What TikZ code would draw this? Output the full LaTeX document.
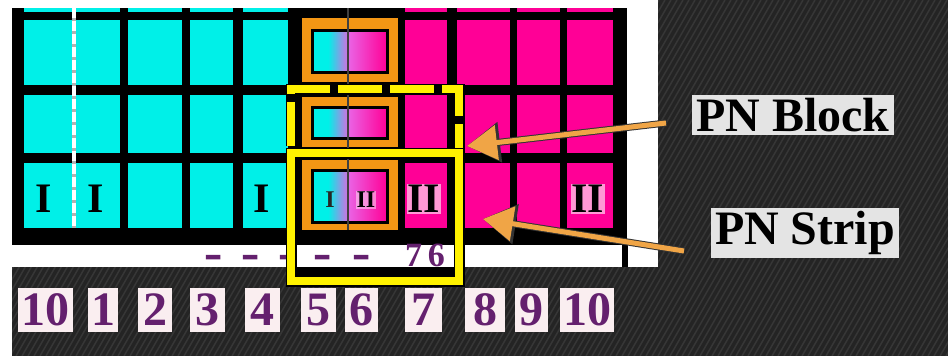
\documentclass[tikz,border=0pt]{standalone}
\usepackage{fontspec}
\usepackage{graphicx}
\setmainfont{Liberation Serif}
\usetikzlibrary{arrows.meta}
\definecolor{cyancell}{RGB}{0,240,232}
\definecolor{pinkcell}{RGB}{255,0,150}
\definecolor{midmag}{RGB}{235,95,225}
\definecolor{blkorange}{RGB}{243,150,20}
\definecolor{pnyellow}{RGB}{255,242,0}
\definecolor{numpurple}{RGB}{100,32,110}
\definecolor{darkbg}{RGB}{36,36,36}
\definecolor{bgstripe}{RGB}{54,54,54}
\definecolor{arrorange}{RGB}{240,165,70}
\definecolor{lblgray}{RGB}{228,228,228}
\definecolor{numwhite}{RGB}{250,238,240}
\begin{document}
\begin{tikzpicture}[x=1pt,y=-1pt,
	numbox/.style={fill=numwhite,text=numpurple,font=\fontsize{48}{48}\selectfont\bfseries,inner xsep=3pt,inner ysep=0pt,minimum height=44pt},
	pnlabel/.style={fill=lblgray,text=black,font=\fontsize{48}{48}\selectfont\bfseries,inner xsep=4pt,inner ysep=3pt},
	romlbl/.style={font=\fontsize{42}{42}\selectfont\bfseries,inner sep=1pt},
	bandmark/.style={text=numpurple,font=\fontsize{40}{40}\selectfont\bfseries\addfontfeature{FakeBold=3},inner sep=0pt},
	pnarrow/.style={draw=arrorange,line width=5pt,-{Triangle[length=30pt,width=34pt]},
		preaction={draw=black!80,line width=7pt,-{Triangle[length=33pt,width=39pt]}}}]
	\useasboundingbox (0,0) rectangle (948,356);
	\fill[white] (0,0) rectangle (948,356);
	% dark striped background
	\begin{scope}
		\clip (658,0) -- (948,0) -- (948,356) -- (12,356) -- (12,267) -- (658,267) -- cycle;
		\fill[darkbg] (0,0) rectangle (948,356);
		\foreach \s in {-200,-194,...,948}
		\draw[bgstripe,line width=1.5pt] (\s,356) -- ++(205,-356);
	\end{scope}
	% panel and cells
	\fill[black] (12,8) rectangle (627,245);
	\foreach \xa/\xb/\c in {24/120/cyancell,128/182/cyancell,190/233/cyancell,243/288/cyancell,405/447/pinkcell,457/510/pinkcell,517/560/pinkcell,567/613/pinkcell}
	\foreach \ya/\yb in {8/12,20/85,95/153,163/228}
	\fill[\c] (\xa,\ya) rectangle (\xb,\yb);
	\foreach \ya/\yb/\ia/\ib in {18/82/30/72,97/147/107/138,160/230/170/222}{
		\fill[blkorange] (302,\ya) rectangle (398,\yb);
		\fill[cyancell] (312,\ia) rectangle (328,\ib);
		\shade[left color=cyancell,right color=midmag] (328,\ia) rectangle (350,\ib);
		\shade[left color=midmag,right color=pinkcell] (350,\ia) rectangle (387,\ib);
		\draw[black,line width=3pt] (312,\ia) rectangle (387,\ib);
	}
	\draw[black!75,line width=1.5pt] (348,8) -- (348,230);
	\draw[gray!60,line width=4pt] (74,8) -- (74,228);
	\draw[white,line width=4pt,dash pattern=on 10pt off 3pt] (74,8) -- (74,228);
	% labels in the bottom row
	\node[romlbl] (r1) at (44,199) {I};
	\node[romlbl] (r2) at (96,199) {I};
	\node[romlbl] (r3) at (262,199) {I};
	\node[romlbl,font=\fontsize{24}{24}\selectfont\bfseries,text=black!85] (r4) at (330,200) {I};
	\node[romlbl,font=\fontsize{24}{24}\selectfont\bfseries,fill=white,fill opacity=0.45,text opacity=1] (r5) at (366,200) {II};
	\node[romlbl,fill=white,fill opacity=0.6,text opacity=1] (r6) at (424,199) {II};
	\node[romlbl,fill=white,fill opacity=0.6,text opacity=1] (r7) at (588,199) {II};
	% white band
	\fill[white] (12,245) rectangle (622,267);
	\fill[black] (622,245) rectangle (628,267);
	\fill[black] (295,267) rectangle (455,277);
	\foreach \x [count=\k] in {213,250,287,322,361}
	\node[bandmark] (m\k) at (\x,261) {\scalebox{1.25}[1]{-}};
	\node[bandmark,font=\fontsize{34}{34}\selectfont\bfseries] (m76) at (425,255) {7\hspace{6pt}6};
	% PN block and PN strip
	\draw[pnyellow,line width=8pt,dash pattern=on 44pt off 8pt,preaction={draw=black,line width=11pt}] (291,146) -- (291,89) -- (459,89) -- (459,152);
	\draw[black,line width=11pt] (291,153) rectangle (459,281);
	\draw[pnyellow,line width=8pt] (291,153) rectangle (459,281);
	\node[pnlabel] (blklbl) at (793,115) {PN Block};
	\node[pnlabel] (strlbl) at (805,233) {PN Strip};
	\coordinate (blktail) at (666,123);
	\coordinate (blktip) at (467,146);
	\coordinate (strtail) at (684,251);
	\coordinate (strtip) at (483,219);
	\draw[pnarrow] (blktail) -- (blktip);
	\draw[pnarrow] (strtail) -- (strtip);
	% column numbers
	\foreach \x/\n/\w [count=\k] in {45/10/55,103/1/30,155/2/34,207/3/35,262/4/35,318/5/35,361/6/33,423/7/37,485/8/40,531/9/33,587/10/45}
	\node[numbox,minimum width=\w] (num\k) at (\x,310) {\n};
\end{tikzpicture}
\end{document}
